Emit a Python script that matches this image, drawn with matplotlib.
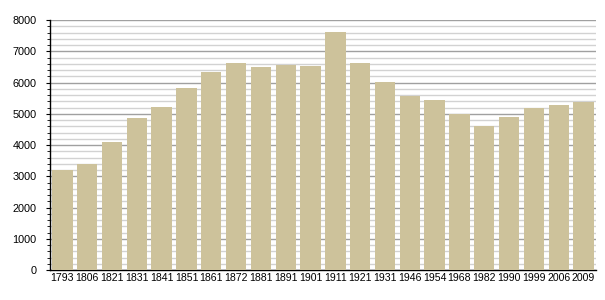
import matplotlib
matplotlib.use("Agg")
import matplotlib.pyplot as plt
from matplotlib.ticker import MultipleLocator

years = ["1793", "1806", "1821", "1831", "1841", "1851", "1861", "1872", "1881", "1891", "1901",
         "1911", "1921", "1931", "1946", "1954", "1968", "1982", "1990", "1999", "2006", "2009"]
population = [3200, 3400, 4100, 4870, 5230, 5830, 6350, 6620, 6500, 6570, 6540,
              7620, 6620, 6020, 5570, 5450, 4980, 4620, 4900, 5190, 5290, 5380]

plt.rcParams['font.family'] = ['Liberation Sans', 'DejaVu Sans']

fig = plt.figure(figsize=(6.05, 3.0), dpi=100)
ax = fig.add_axes([0.0826, 0.1, 0.9024, 0.8333])

x = range(len(years))
ax.bar(x, population, width=0.82, color='#cdc29b', zorder=3)

ax.set_xlim(-0.5, len(years) - 0.5)
ax.set_ylim(0, 8000)
ax.set_xticks(list(x))
ax.set_xticklabels(years)

ax.yaxis.set_major_locator(MultipleLocator(1000))
ax.yaxis.set_minor_locator(MultipleLocator(200))
ax.grid(axis='y', which='major', color='#a0a0a0', linewidth=1.0, zorder=0)
ax.grid(axis='y', which='minor', color='#d2d2d2', linewidth=1.0, zorder=0)

for s in ['top', 'right']:
    ax.spines[s].set_visible(False)
ax.spines['left'].set_linewidth(1.0)
ax.spines['bottom'].set_linewidth(1.0)

ax.tick_params(axis='y', which='major', length=3, width=0.8, pad=6.5, labelsize=7.8)
ax.tick_params(axis='y', which='minor', length=2, width=0.6)
ax.tick_params(axis='x', length=0, pad=2.5, labelsize=7.6)

fig.savefig('out.png', dpi=100)
